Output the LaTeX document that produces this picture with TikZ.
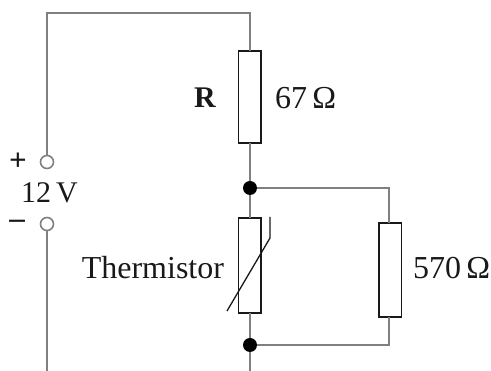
\documentclass[tikz,border=0pt]{standalone}
\usepackage{fontspec}
\setmainfont{Liberation Serif}
\tikzset{
 wire/.style={draw=black!50,line width=1.8pt},
 res/.style={draw=black!90,line width=1.5pt,fill=white,minimum width=22.5pt,inner sep=0pt,outer sep=0pt,rectangle},
 term/.style={circle,draw=black!50,line width=1.6pt,fill=white,minimum size=13pt,inner sep=0pt,outer sep=0pt},
 junc/.style={circle,fill=black,minimum size=14pt,inner sep=0pt,outer sep=0pt},
 lbl/.style={inner sep=0pt,outer sep=0pt,text=black!90,font=\fontsize{32}{34}\selectfont},
}
\begin{document}
\begin{tikzpicture}[x=1pt,y=-1pt]
\useasboundingbox (0,0) rectangle (491,371);
\coordinate (tl) at (47,13);
\coordinate (tr) at (250,13);
\coordinate (bl) at (47,371);
\coordinate (br) at (250,371);
\coordinate (j1r) at (389,188);
\coordinate (j2r) at (389,345);
\node[term] (tp) at (47,162) {};
\node[term] (tm) at (47,224) {};
\node[res,minimum height=92pt] (R) at (249.5,97) {};
\node[res,minimum height=95pt] (Th) at (249.5,265.5) {};
\node[res,minimum height=94pt] (P) at (390.2,270) {};
\node[junc] (j1) at (250,188) {};
\node[junc] (j2) at (250,345) {};
\draw[wire] (tp) -- (tl) -- (tr) -- (R.north -| tr);
\draw[wire] (tm) -- (bl);
\draw[wire] (R.south -| j1) -- (j1);
\draw[wire] (j1) -- (Th.north -| j1);
\draw[wire] (Th.south -| j2) -- (j2);
\draw[wire] (j2) -- (br);
\draw[wire] (j1) -- (j1r) -- (P.north -| j1r);
\draw[wire] (P.south -| j2r) -- (j2r) -- (j2);
\coordinate (s1) at (227,311);
\coordinate (s2) at (270,238);
\coordinate (s3) at (270,217);
\draw[line width=1.3pt,black!90] (s1) -- (s2) -- (s3);
\node[lbl,font=\fontsize{31}{33}\selectfont\bfseries] (plus) at (18,161.5) {+};
\node[lbl,font=\fontsize{31}{33}\selectfont\bfseries] (minus) at (17,224.5) {–};
\node[lbl,font=\fontsize{30}{32}\selectfont] (v) at (49.5,193) {12\,V};
\node[lbl,anchor=east] (th) at (224,268) {Thermistor};
\node[lbl,font=\fontsize{30}{32}\selectfont] (rn) at (205,98) {\textbf{R}};
\node[lbl,anchor=west] (r1) at (275,98) {67\,Ω};
\node[lbl,anchor=west] (r2) at (413,268) {570\,Ω};
\end{tikzpicture}
\end{document}
